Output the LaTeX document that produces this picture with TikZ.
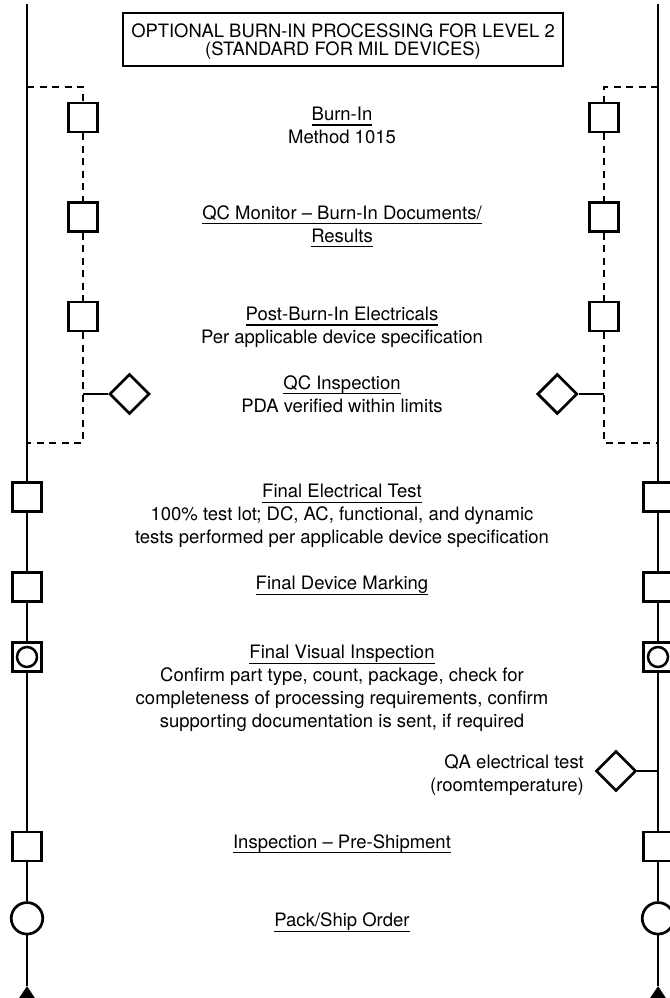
\documentclass[tikz,border=0pt]{standalone}
\usepackage{fontspec}
\setmainfont{TeX Gyre Heros}
\usepackage{tikz}
\usetikzlibrary{arrows.meta,shapes.geometric}
\tikzset{
    % Solid flow lines and short stems to the diamonds
    flowline/.style={line width=2.8pt},
    % Optional burn-in branch
    optline/.style={line width=2.6pt, dash pattern=on 7pt off 5.5pt},
    % Process step (square)
    stepbox/.style={
        rectangle, draw, fill=white, line width=2.7pt,
        minimum size=29pt, inner sep=0pt
    },
    % QC / QA check point (diamond)
    checkpoint/.style={
        diamond, draw, fill=white, line width=2.7pt,
        minimum size=40pt, inner sep=0pt
    },
    % Visual inspection: square with a circle inside
    visualbox/.style={stepbox, path picture={
        \draw[line width=2.5pt] (path picture bounding box.center) circle (10pt);}
    },
    % Pack and ship (circle)
    shipnode/.style={
        circle, draw, fill=white, line width=2.7pt,
        minimum size=31.5pt, inner sep=0pt
    },
    % Heading box
    titlebox/.style={
        draw, line width=1.8pt, minimum width=440pt, minimum height=53pt,
        align=center, text depth=0pt, font=\fontsize{18.4}{17.6}\selectfont
    },
    % Step descriptions
    steptext/.style={
        anchor=north, align=center, inner sep=0pt,
        font=\fontsize{18.5}{23}\selectfont
    },
}
\newcommand{\stepline}[1]{\setbox0=\hbox{#1}\rlap{\rule[-5.4pt]{\wd0}{1.3pt}}\box0}

\begin{document}
\begin{tikzpicture}[x=1pt,y=-1pt]
  \fill[white] (0,0) rectangle (669,998);
  \useasboundingbox (0,0) rectangle (669,998);
  \node[titlebox] (title) at (343,39.5) {OPTIONAL BURN-IN PROCESSING FOR LEVEL 2\\(STANDARD FOR MIL DEVICES)};
  % the two flow lines, left and right
  \foreach \s/\mx/\dx/\qx in {l/27/83/129.5,r/658/604/557.3}{
    \coordinate (\s-top) at (\mx,4);
    \coordinate (\s-in) at (\mx,87);
    \coordinate (\s-out) at (\mx,443);
    \coordinate (\s-foot) at (\mx,998);
    \coordinate (\s-tip) at (\mx,986);
    \node[stepbox] (\s-burn) at (\dx,117.5) {};
    \node[stepbox] (\s-mon) at (\dx,217) {};
    \node[stepbox] (\s-post) at (\dx,316.5) {};
    \node[checkpoint] (\s-qc) at (\qx,394) {};
    \node[stepbox] (\s-elec) at (\mx,497) {};
    \node[stepbox] (\s-mark) at (\mx,587) {};
    \node[visualbox] (\s-vis) at (\mx,657) {};
    \node[stepbox] (\s-pre) at (\mx,846.5) {};
    \node[shipnode] (\s-ship) at (\mx,918.3) {};
    \draw[flowline] (\s-top) -- (\s-elec) -- (\s-mark) -- (\s-vis) -- (\s-pre) -- (\s-ship) -- (\s-tip);
    \draw[flowline,-{Triangle[width=15pt,length=12pt]}] (\s-foot) -- (\s-tip);
    \draw[optline] (\s-in) -| (\s-burn);
    \draw[optline] (\s-burn) -- (\s-mon) -- (\s-post);
    \draw[optline] (\s-post) |- (\s-out);
    \draw[flowline] (\s-qc) -- (\s-qc -| \s-post);
  }
  \node[checkpoint] (qa) at (616,771) {};
  \draw[flowline] (qa) -- (qa -| r-pre);
  % step texts
  \node[steptext] (burn-text) at (342,106.6) {\stepline{Burn-In}\\Method 1015};
  \node[steptext] (mon-text) at (342,205) {\stepline{QC Monitor -- Burn-In Documents/}\\\stepline{Results}};
  \node[steptext] (post-text) at (342,306.6) {\stepline{Post-Burn-In Electricals}\\Per applicable device specification};
  \node[steptext] (qc-text) at (342,375) {\stepline{QC Inspection}\\PDA verified within limits};
  \node[steptext] (elec-text) at (342,484) {\stepline{Final Electrical Test}\\100\% test lot; DC, AC, functional, and dynamic\\tests performed per applicable device specification};
  \node[steptext] (mark-text) at (342,576) {\stepline{Final Device Marking}};
  \node[steptext] (vis-text) at (342,645) {\stepline{Final Visual Inspection}\\Confirm part type, count, package, check for\\completeness of processing requirements, confirm\\supporting documentation is sent, if required};
  \node[steptext,anchor=north east,align=right] (qa-text) at (584,754) {QA electrical test\\(roomtemperature)};
  \node[steptext] (pre-text) at (342,834) {\stepline{Inspection -- Pre-Shipment}};
  \node[steptext] (ship-text) at (342,912.6) {\stepline{Pack/Ship Order}};
\end{tikzpicture}
\end{document}
